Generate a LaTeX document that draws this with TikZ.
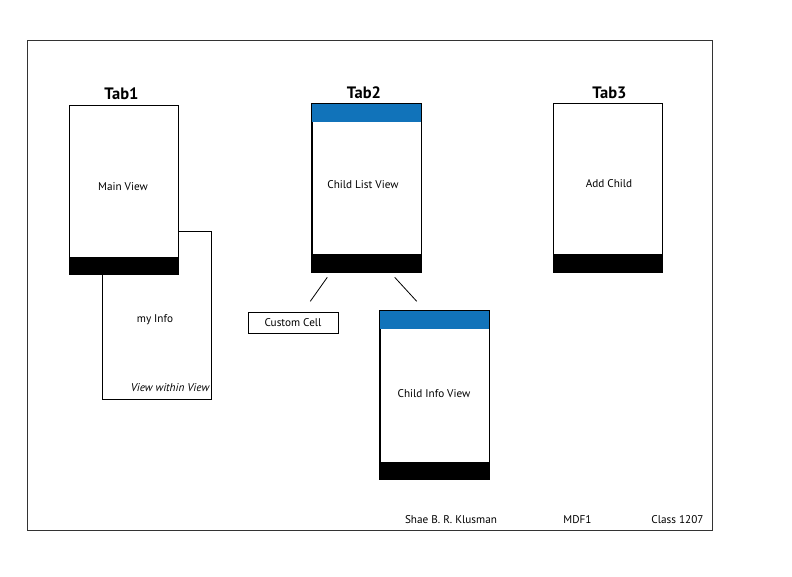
\documentclass[tikz,border=0pt]{standalone}
\usepackage{fontspec}
\setmainfont{PT Sans}
\definecolor{tabblue}{RGB}{17,115,186}
\begin{document}
\begin{tikzpicture}[x=1pt,y=-1pt,
  screen/.style={draw=black,fill=white,line width=0.8pt,inner sep=0pt,anchor=north west,minimum width=109pt,minimum height=169pt},
  cellbox/.style={draw=black,fill=white,line width=0.8pt,inner sep=0pt,anchor=north west,minimum width=90.5pt,minimum height=21pt},
  tablabel/.style={font=\fontsize{16.5}{18}\selectfont\bfseries},
  txt/.style={font=\fontsize{11.2}{13}\selectfont},
  link/.style={draw=black,line width=0.8pt}]
\useasboundingbox (0,0) rectangle (792,576);
\draw[line width=0.8pt,draw=black!80] (27.5,40) rectangle (712.5,530);
% Tab1
\node[screen,minimum height=168.5pt] (info) at (101.5,230.5) {};
\node[screen] (main) at (68.5,105) {};
\fill[black] ([yshift=18pt]main.south west) rectangle (main.south east);
\node[tablabel] (t1) at (121.5,93.5) {Tab1};
\node[txt] (mainv) at (123,187) {Main View};
\node[txt] (myinfo) at (155,320) {my Info};
\node[txt,font=\fontsize{11.2}{13}\selectfont\itshape] (vwv) at (170,388) {View within View};
% Tab2
\node[screen] (list) at (311.5,103) {};
\fill[tabblue] (list.north west) rectangle ([yshift=-19pt]list.north east);
\fill[black] ([yshift=18.5pt]list.south west) rectangle (list.south east);
\draw[line width=0.8pt] (list.north west) rectangle (list.south east);
\node[tablabel] (t2) at (364,93) {Tab2};
\node[txt] (listv) at (363,185) {Child List View};
% Custom cell
\node[cellbox] (cell) at (247.5,311.5) {};
\node[txt] (cellt) at (293,323) {Custom Cell};
% Child info
\node[screen] (cinfo) at (379.5,310) {};
\fill[tabblue] (cinfo.north west) rectangle ([yshift=-19pt]cinfo.north east);
\fill[black] ([yshift=18pt]cinfo.south west) rectangle (cinfo.south east);
\draw[line width=0.8pt] (cinfo.north west) rectangle (cinfo.south east);
\node[txt] (cinfot) at (434,394) {Child Info View};
% connectors
\coordinate (l1a) at (327.3,277.3);
\coordinate (l1b) at (310.3,301.3);
\coordinate (l2a) at (394.7,277.3);
\coordinate (l2b) at (416.7,301.3);
\draw[link] (l1a) -- (l1b);
\draw[link] (l2a) -- (l2b);
% Tab3
\node[screen] (add) at (553,103) {};
\fill[black] ([yshift=18.5pt]add.south west) rectangle (add.south east);
\node[tablabel] (t3) at (609.5,93) {Tab3};
\node[txt] (addt) at (609,184) {Add Child};
% footer
\node[txt] (name) at (451,519.5) {Shae B. R. Klusman};
\node[txt] (mdf) at (577.5,519.5) {MDF1};
\node[txt] (cls) at (677.5,519.5) {Class 1207};
\end{tikzpicture}
\end{document}
